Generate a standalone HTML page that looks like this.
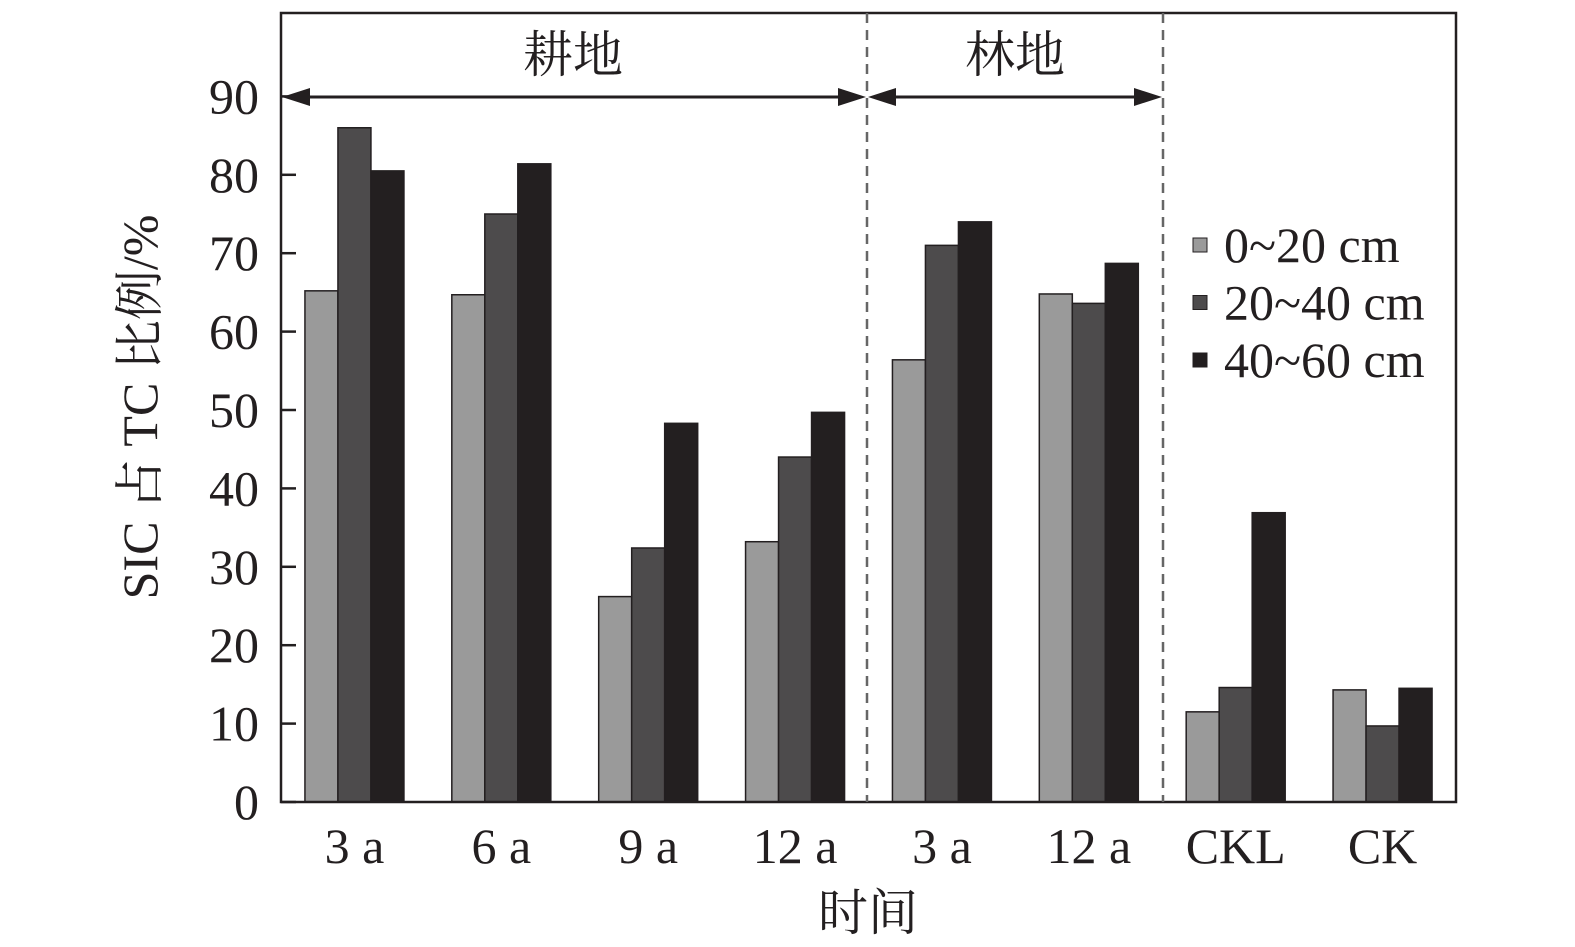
<!DOCTYPE html>
<html><head><meta charset="utf-8"><style>
html,body{margin:0;padding:0;background:#fff}
svg{display:block}
text{font-family:"Liberation Serif","Noto Serif CJK SC",serif;fill:#231f20}
</style></head><body>
<svg id="chart" width="1575" height="947" viewBox="0 0 1575 947">
<g id="marks"></g>
<rect x="281" y="13" width="1175" height="789" fill="none" stroke="#231f20" stroke-width="2.5"/>
<line x1="867" y1="13" x2="867" y2="802" stroke="#666" stroke-width="2.5" stroke-dasharray="10,7"/>
<line x1="1163" y1="13" x2="1163" y2="802" stroke="#666" stroke-width="2.5" stroke-dasharray="10,7"/>
<g>
<line x1="300" y1="97" x2="848" y2="97" stroke="#231f20" stroke-width="3"/>
<polygon points="282,97 310,88 310,106" fill="#231f20"/>
<polygon points="866,97 838,88 838,106" fill="#231f20"/>
</g>
<g>
<line x1="885" y1="97" x2="1145" y2="97" stroke="#231f20" stroke-width="3"/>
<polygon points="868,97 896,88 896,106" fill="#231f20"/>
<polygon points="1162,97 1134,88 1134,106" fill="#231f20"/>
</g>
<text x="573" y="72" font-size="50" text-anchor="middle">耕地</text>
<text x="1015" y="72" font-size="50" text-anchor="middle">林地</text>
<g id="yaxis"></g>
<g id="xaxis"></g>
<text x="0" y="0" font-size="50" text-anchor="middle" transform="translate(157,407) rotate(-90)">SIC 占 TC 比例/%</text>
<text x="868" y="930" font-size="50" text-anchor="middle">时间</text>
<g id="legend"></g>
</svg>
<script>
const categories=["3 a","6 a","9 a","12 a","3 a","12 a","CKL","CK"];
const seriesNames=["0~20 cm","20~40 cm","40~60 cm"];
const s0=[65.2,64.7,26.2,33.2,56.4,64.8,11.5,14.3];
const s1=[86.0,75.0,32.4,44.0,71.0,63.6,14.6,9.7];
const s2=[80.5,81.4,48.3,49.7,74.0,68.7,36.9,14.5];
const yTicks=[0,10,20,30,40,50,60,70,80,90];
const colors=["#9a9a9a","#4d4b4c","#231f20"];
const NS="http://www.w3.org/2000/svg";
const x0=281,x1=1456,yb=802,yPer=78.4/10;
const y=v=>yb-v*yPer;
const gw=(x1-x0)/categories.length;
const xc=i=>x0+gw*(i+0.5);
const bw=33;
function mk(tag,attrs,parent){const e=document.createElementNS(NS,tag);for(const k in attrs)e.setAttribute(k,attrs[k]);parent.appendChild(e);return e;}
const marks=document.getElementById('marks');
[s0,s1,s2].forEach((s,si)=>{s.forEach((v,i)=>{
const r=mk('rect',{x:xc(i)+(si-1.5)*bw,y:y(v),width:bw,height:yb-y(v),fill:colors[si],stroke:"#231f20","stroke-width":1.5},marks);


});});
const ya=document.getElementById('yaxis');
yTicks.forEach(t=>{
const l=mk('line',{x1:x0,x2:x0+15,y1:y(t),y2:y(t),stroke:"#231f20","stroke-width":2.5},ya);


const tx=mk('text',{x:259,y:y(t)+17,"font-size":50,"text-anchor":"end"},ya);
tx.textContent=t;


});
const xa=document.getElementById('xaxis');
categories.forEach((c,i)=>{
const tx=mk('text',{x:xc(i),y:863,"font-size":50,"text-anchor":"middle"},xa);
tx.textContent=c;


});
const lg=document.getElementById('legend');
seriesNames.forEach((n,i)=>{
const cy=245+i*57.5;
const r=mk('rect',{x:1193,y:cy-7,width:14,height:14,fill:colors[i],stroke:"#231f20","stroke-width":1},lg);


const tx=mk('text',{x:1224,y:cy+17,"font-size":50},lg);
tx.textContent=n;


});
</script>
</body></html>
